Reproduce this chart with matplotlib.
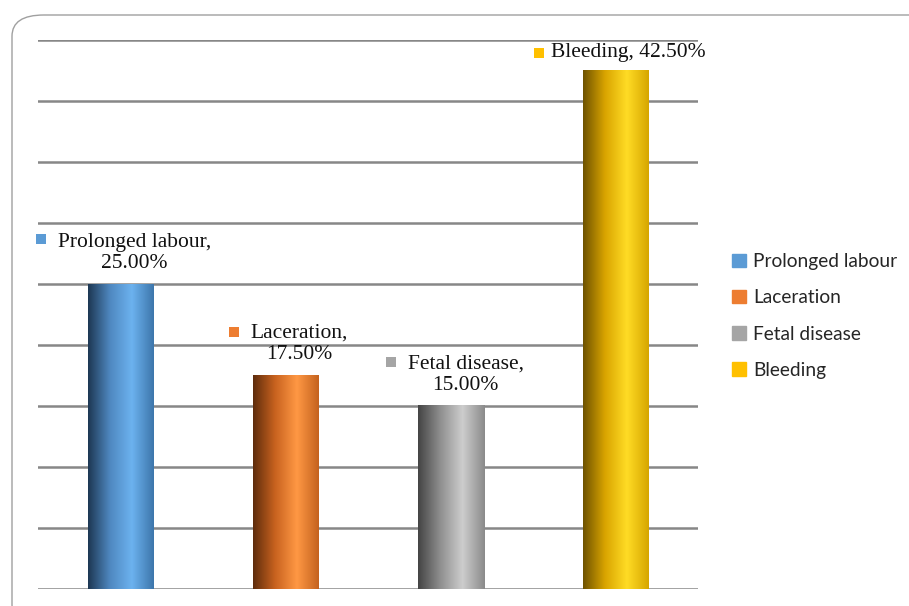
import matplotlib
matplotlib.use("Agg")
import matplotlib.pyplot as plt
import matplotlib.patches as mpatches
import matplotlib.transforms as mtransforms
from matplotlib.colors import LinearSegmentedColormap
import numpy as np

# data
causes = ["Prolonged labour", "Laceration", "Fetal disease", "Bleeding"]
shares = [25.0, 17.5, 15.0, 42.5]

# styling
base_colors = ["#5b9bd5", "#ed7d31", "#a5a5a5", "#ffc000"]
gradients = [
    ["#1d3753", "#4f88c0", "#6cb2ef", "#3d76ab"],
    ["#5e2c0c", "#c8621f", "#ff9844", "#c4621e"],
    ["#444444", "#8f8f8f", "#cdcdcd", "#8a8a8a"],
    ["#6e5200", "#d9a400", "#ffdc25", "#d6a600"],
]
# label offsets (pixels) from bar top: text centre, marker
text_off = [(14, 31), (14, 32), (15, 31), (13, 18)]
mark_off = [(-80, 45), (-52, 44), (-60, 44), (-77, 18)]

W, H = 909, 606
fig = plt.figure(figsize=(W / 100, H / 100), dpi=100)
ax = fig.add_axes([38 / W, (H - 589) / H, (698 - 38) / W, (589 - 40) / H])

ax.set_xlim(-0.5, len(causes) - 0.5)
ax.set_ylim(0, 45)
ax.set_yticks(np.arange(0, 46, 5))
ax.grid(axis="y", color="#878787", lw=1.8, zorder=0)
ax.set_axisbelow(True)
ax.tick_params(left=False, bottom=False, labelleft=False, labelbottom=False)
for s in ax.spines.values():
    s.set_visible(False)

bw = 0.4
for i, (name, v) in enumerate(zip(causes, shares)):
    cmap = LinearSegmentedColormap.from_list(name, gradients[i])
    grad = np.linspace(0, 1, 256).reshape(1, -1)
    ax.imshow(grad, cmap=cmap, aspect="auto", zorder=2,
              extent=(i - bw / 2, i + bw / 2, 0, v))
    ax.bar(i, v, width=bw, color="none", edgecolor="none", zorder=2)

    lbl = f"{name},\n{v:.2f}%" if v < 40 else f"{name}, {v:.2f}%"
    ax.annotate(lbl, xy=(i, v), xytext=text_off[i], textcoords="offset pixels",
                ha="center", va="center", fontsize=15.5, family="Liberation Serif",
                linespacing=1.15, color="#111111", zorder=4)
    ax.plot([i], [v], marker="s", ms=7.5, color=base_colors[i], mew=0,
            transform=ax.transData + mtransforms.ScaledTranslation(
                mark_off[i][0] / 100, mark_off[i][1] / 100, fig.dpi_scale_trans),
            clip_on=False, zorder=4)

ax.set_xlim(-0.5, len(causes) - 0.5)
ax.set_ylim(0, 45)

handles = [mpatches.Patch(color=c, label=n) for c, n in zip(base_colors, causes)]
leg = fig.legend(handles=handles, loc="upper left", bbox_to_anchor=(715 / W, 1 - 236 / H),
                 frameon=False, handlelength=0.7, handleheight=0.7, handletextpad=0.4,
                 labelspacing=1.0, prop={"family": "Lato", "size": 13.8})
for t in leg.get_texts():
    t.set_color("#262626")

# rounded chart border (only top/left corner visible in the crop)
fig.patches.append(mpatches.FancyBboxPatch(
    (12 / W, -20 / H), (W + 20) / W, (H - 15 + 20) / H,
    boxstyle="round,pad=0,rounding_size=0.035", transform=fig.transFigure,
    facecolor="none", edgecolor="#a0a0a0", lw=1.0))

fig.savefig("out.png", dpi=100)
